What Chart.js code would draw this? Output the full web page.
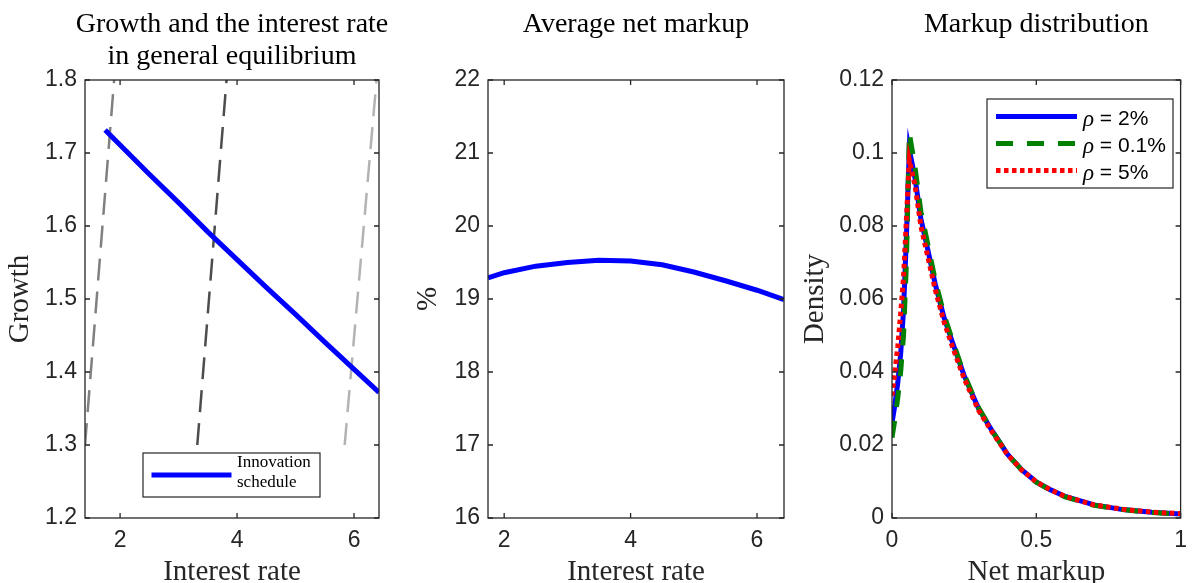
<!DOCTYPE html>
<html>
<head>
<meta charset="utf-8">
<script src="https://cdn.jsdelivr.net/npm/chart.js@4.4.1/dist/chart.umd.min.js"></script>
<style>
  html, body { margin: 0; padding: 0; background: #fff; width: 1196px; height: 583px; overflow: hidden; }
  canvas { position: absolute; top: 0; }
</style>
</head>
<body>
<canvas id="growthChart" style="left:0px" width="400" height="600"></canvas>
<canvas id="markupChart" style="left:400px" width="400" height="600"></canvas>
<canvas id="distChart" style="left:800px" width="396" height="600"></canvas>
<script>
// == DATA ==
// panel 1: innovation schedule (growth vs interest rate)
const rateInnovation = [1.744, 2.0, 2.5, 3.0, 3.5, 4.0, 4.5, 5.0, 5.5, 5.956, 6.427];
const growthInnovation = [1.7315, 1.711, 1.671, 1.632, 1.592, 1.554, 1.516, 1.479, 1.441, 1.407, 1.372];
// Euler lines for three values of rho (dashed, grey)
const growthEuler = [1.3, 1.8];
const rateEulerLow = [1.40, 1.898];
const rateEulerMid = [3.32, 3.82];
const rateEulerHigh = [5.84, 6.385];
const growthTicks = [1.2, 1.3, 1.4, 1.5, 1.6, 1.7, 1.8];
const rateTicks = [2, 4, 6];

// panel 2: average net markup
const rateMarkup = [1.744, 2.0, 2.5, 3.0, 3.5, 4.0, 4.5, 5.0, 5.5, 6.0, 6.427];
const avgMarkup = [19.29, 19.36, 19.45, 19.50, 19.53, 19.52, 19.47, 19.37, 19.25, 19.12, 18.99];
const markupTicks = [16, 17, 18, 19, 20, 21, 22];

// panel 3: markup distribution
const netMarkup = [0, 0.01, 0.02, 0.03, 0.04, 0.05, 0.06, 0.08, 0.10, 0.12, 0.15, 0.18, 0.21, 0.25,
                   0.30, 0.35, 0.40, 0.45, 0.50, 0.55, 0.60, 0.70, 0.80, 0.90, 1.00];
const densityRho2 = [0.026, 0.031, 0.037, 0.045, 0.057, 0.077, 0.101, 0.093, 0.082, 0.075, 0.064, 0.055, 0.048, 0.039,
                     0.030, 0.0235, 0.0175, 0.0132, 0.0099, 0.0077, 0.0059, 0.0036, 0.0023, 0.0016, 0.0011];
const densityRho01 = [0.022, 0.027, 0.033, 0.040, 0.050, 0.070, 0.1055, 0.096, 0.084, 0.0765, 0.065, 0.0558, 0.0485, 0.0393,
                      0.0302, 0.0235, 0.0175, 0.0131, 0.0098, 0.0076, 0.0058, 0.0035, 0.0023, 0.0015, 0.0011];
const densityRho5 = [0.0335, 0.040, 0.047, 0.056, 0.066, 0.082, 0.098, 0.091, 0.080, 0.073, 0.0625, 0.0538, 0.0468, 0.0382,
                     0.0295, 0.0232, 0.0174, 0.0131, 0.0099, 0.0077, 0.0059, 0.0036, 0.0024, 0.0016, 0.0012];
const rhoLabels = ['2%', '0.1%', '5%'];
const densityTicks = [0, 0.02, 0.04, 0.06, 0.08, 0.1, 0.12];
const netMarkupTicks = [0, 0.5, 1];

// == STYLE ==
const axisColor = '#262626';
const tickFont = { family: 'Liberation Sans, Arial, sans-serif', size: 23 };
const labelFont = { family: 'Liberation Serif, Times New Roman, serif', size: 29, lineHeight: 1 };
const titleFontCss = '28px "Liberation Serif", "Times New Roman", serif';

function toPoints(xs, ys) {
    return xs.map((x, i) => ({ x: x, y: ys[i] }));
}

// khung hộp kiểu MATLAB + vạch chia hướng vào trong
const matlabBox = {
    id: 'matlabBox',
    afterDatasetsDraw(chart) {
        const { ctx, chartArea: a, scales: { x, y } } = chart;
        const len = 5;
        ctx.save();
        ctx.strokeStyle = axisColor;
        ctx.lineWidth = 1.3;
        ctx.strokeRect(a.left, a.top, a.right - a.left, a.bottom - a.top);
        ctx.beginPath();
        x.ticks.forEach(t => {
            const px = x.getPixelForValue(t.value);
            ctx.moveTo(px, a.bottom); ctx.lineTo(px, a.bottom - len);
            ctx.moveTo(px, a.top); ctx.lineTo(px, a.top + len);
        });
        y.ticks.forEach(t => {
            const py = y.getPixelForValue(t.value);
            ctx.moveTo(a.left, py); ctx.lineTo(a.left + len, py);
            ctx.moveTo(a.right, py); ctx.lineTo(a.right - len, py);
        });
        ctx.stroke();
        ctx.restore();
    }
};

function titlePlugin(lines) {
    return {
        id: 'panelTitle',
        afterDraw(chart) {
            const { ctx, chartArea: a } = chart;
            ctx.save();
            ctx.font = titleFontCss;
            ctx.fillStyle = '#000';
            ctx.textAlign = 'center';
            ctx.textBaseline = 'middle';
            lines.forEach((t, i) => ctx.fillText(t, (a.left + a.right) / 2, 25 + i * 32));
            ctx.restore();
        }
    };
}

// legend có khung, vẽ theo kiểu đường của dataset
function legendPlugin(box, items, drawText) {
    return {
        id: 'boxLegend',
        afterDraw(chart) {
            const { ctx, chartArea: a } = chart;
            const bx = a.left + box.dx, by = a.top + box.dy;
            ctx.save();
            ctx.fillStyle = '#fff';
            ctx.fillRect(bx, by, box.w, box.h);
            ctx.strokeStyle = axisColor;
            ctx.lineWidth = 1.2;
            ctx.strokeRect(bx, by, box.w, box.h);
            items.forEach((it, i) => {
                const ds = chart.data.datasets[it.ds];
                const ly = by + box.row0 + i * box.rowGap;
                ctx.save();
                ctx.strokeStyle = ds.borderColor;
                ctx.lineWidth = ds.borderWidth;
                ctx.lineCap = 'butt';
                ctx.setLineDash(ds.borderDash || []);
                ctx.beginPath();
                ctx.moveTo(bx + box.s0, ly);
                ctx.lineTo(bx + box.s1, ly);
                ctx.stroke();
                ctx.restore();
                drawText(ctx, it, bx + box.tx, ly);
            });
            ctx.restore();
        }
    };
}

function scalesFor(o) {
    return {
        x: {
            type: 'linear', min: o.xMin, max: o.xMax,
            grid: { display: false, drawTicks: false }, border: { display: false },
            afterBuildTicks: s => { s.ticks = o.xTicks.map(v => ({ value: v })); },
            afterFit: s => { s.height = 82; },
            ticks: { padding: 9, color: axisColor, font: tickFont, maxRotation: 0, autoSkip: false, callback: v => String(v) },
            title: { display: true, text: o.xLabel, color: axisColor, font: labelFont, padding: { top: 0, bottom: 13.5 } }
        },
        y: {
            type: 'linear', min: o.yMin, max: o.yMax,
            grid: { display: false, drawTicks: false }, border: { display: false },
            afterBuildTicks: s => { s.ticks = o.yTicks.map(v => ({ value: v })); },
            afterFit: s => { s.width = o.yWidth; },
            ticks: { padding: 8, color: axisColor, font: tickFont, autoSkip: false, callback: v => String(v) },
            title: { display: true, text: o.yLabel, color: axisColor, font: labelFont, padding: { top: o.yTitlePad, bottom: 0 } }
        }
    };
}

function baseOptions(o) {
    return {
        responsive: false,
        animation: false,
        layout: { padding: { top: 80, right: o.padRight, left: 0, bottom: 0 } },
        elements: { point: { radius: 0 }, line: { tension: 0 } },
        plugins: { legend: { display: false }, tooltip: { enabled: false } },
        scales: scalesFor(o)
    };
}

//== PANEL 1: Growth and the interest rate ==
new Chart(document.getElementById('growthChart'), {
    type: 'line',
    data: {
        datasets: [
            { label: 'Innovation schedule', data: toPoints(rateInnovation, growthInnovation), borderColor: '#0000ff', borderWidth: 5, borderCapStyle: 'butt', order: 0 },
            { data: toPoints(rateEulerLow, growthEuler), borderColor: '#808080', borderWidth: 2.5, borderDash: [22, 11], clip: 0, order: 3 },
            { data: toPoints(rateEulerMid, growthEuler), borderColor: '#4d4d4d', borderWidth: 2.5, borderDash: [22, 11], clip: 0, order: 2 },
            { data: toPoints(rateEulerHigh, growthEuler), borderColor: '#b3b3b3', borderWidth: 2.5, borderDash: [22, 11], clip: 0, order: 1 }
        ]
    },
    options: baseOptions({ xMin: 1.4, xMax: 6.427, xTicks: rateTicks, xLabel: 'Interest rate',
        yMin: 1.2, yMax: 1.8, yTicks: growthTicks, yLabel: 'Growth', yWidth: 85, yTitlePad: 5.5, padRight: 21 }),
    plugins: [matlabBox, titlePlugin(['Growth and the interest rate', 'in general equilibrium']),
        legendPlugin({ dx: 58, dy: 373, w: 177, h: 44, row0: 22, rowGap: 0, s0: 8.5, s1: 88.5, tx: 94 },
            [{ ds: 0, text: ['Innovation', 'schedule'] }],
            (ctx, it, x, y) => {
                ctx.fillStyle = '#000';
                ctx.font = '17px "Liberation Serif", serif';
                ctx.textAlign = 'left';
                ctx.textBaseline = 'middle';
                it.text.forEach((t, k) => ctx.fillText(t, x, y - 12 + k * 20));
            })]
});

//== PANEL 2: Average net markup ==
new Chart(document.getElementById('markupChart'), {
    type: 'line',
    data: {
        datasets: [
            { data: toPoints(rateMarkup, avgMarkup), borderColor: '#0000ff', borderWidth: 5 }
        ]
    },
    options: baseOptions({ xMin: 1.744, xMax: 6.427, xTicks: rateTicks, xLabel: 'Interest rate',
        yMin: 16, yMax: 22, yTicks: markupTicks, yLabel: '%', yWidth: 88, yTitlePad: 13.5, padRight: 16 }),
    plugins: [matlabBox, titlePlugin(['Average net markup'])]
});

//== PANEL 3: Markup distribution ==
new Chart(document.getElementById('distChart'), {
    type: 'line',
    data: {
        datasets: [
            { data: toPoints(netMarkup, densityRho2), borderColor: '#0000ff', borderWidth: 5, order: 3 },
            { data: toPoints(netMarkup, densityRho01), borderColor: '#008000', borderWidth: 5, borderDash: [17, 14], order: 2 },
            { data: toPoints(netMarkup, densityRho5), borderColor: '#ff0000', borderWidth: 5, borderDash: [4.5, 3.5], order: 1 }
        ]
    },
    options: baseOptions({ xMin: 0, xMax: 1, xTicks: netMarkupTicks, xLabel: 'Net markup',
        yMin: 0, yMax: 0.12, yTicks: densityTicks, yLabel: 'Density', yWidth: 92, yTitlePad: 0.5, padRight: 8 }),
    plugins: [matlabBox, titlePlugin(['Markup distribution']),
        legendPlugin({ dx: 95, dy: 19, w: 186, h: 89, row0: 17.5, rowGap: 27, s0: 9, s1: 90, tx: 96 },
            rhoLabels.map((t, i) => ({ ds: i, text: t })),
            (ctx, it, x, y) => {
                ctx.fillStyle = '#000';
                ctx.textAlign = 'left';
                ctx.textBaseline = 'middle';
                ctx.font = 'italic 23px "Liberation Serif", serif';
                ctx.fillText('ρ', x, y + 3);
                const w = ctx.measureText('ρ').width;
                ctx.font = '21px "Liberation Sans", sans-serif';
                ctx.fillText(' = ' + it.text, x + w, y + 3);
            })]
});
</script>
</body>
</html>
